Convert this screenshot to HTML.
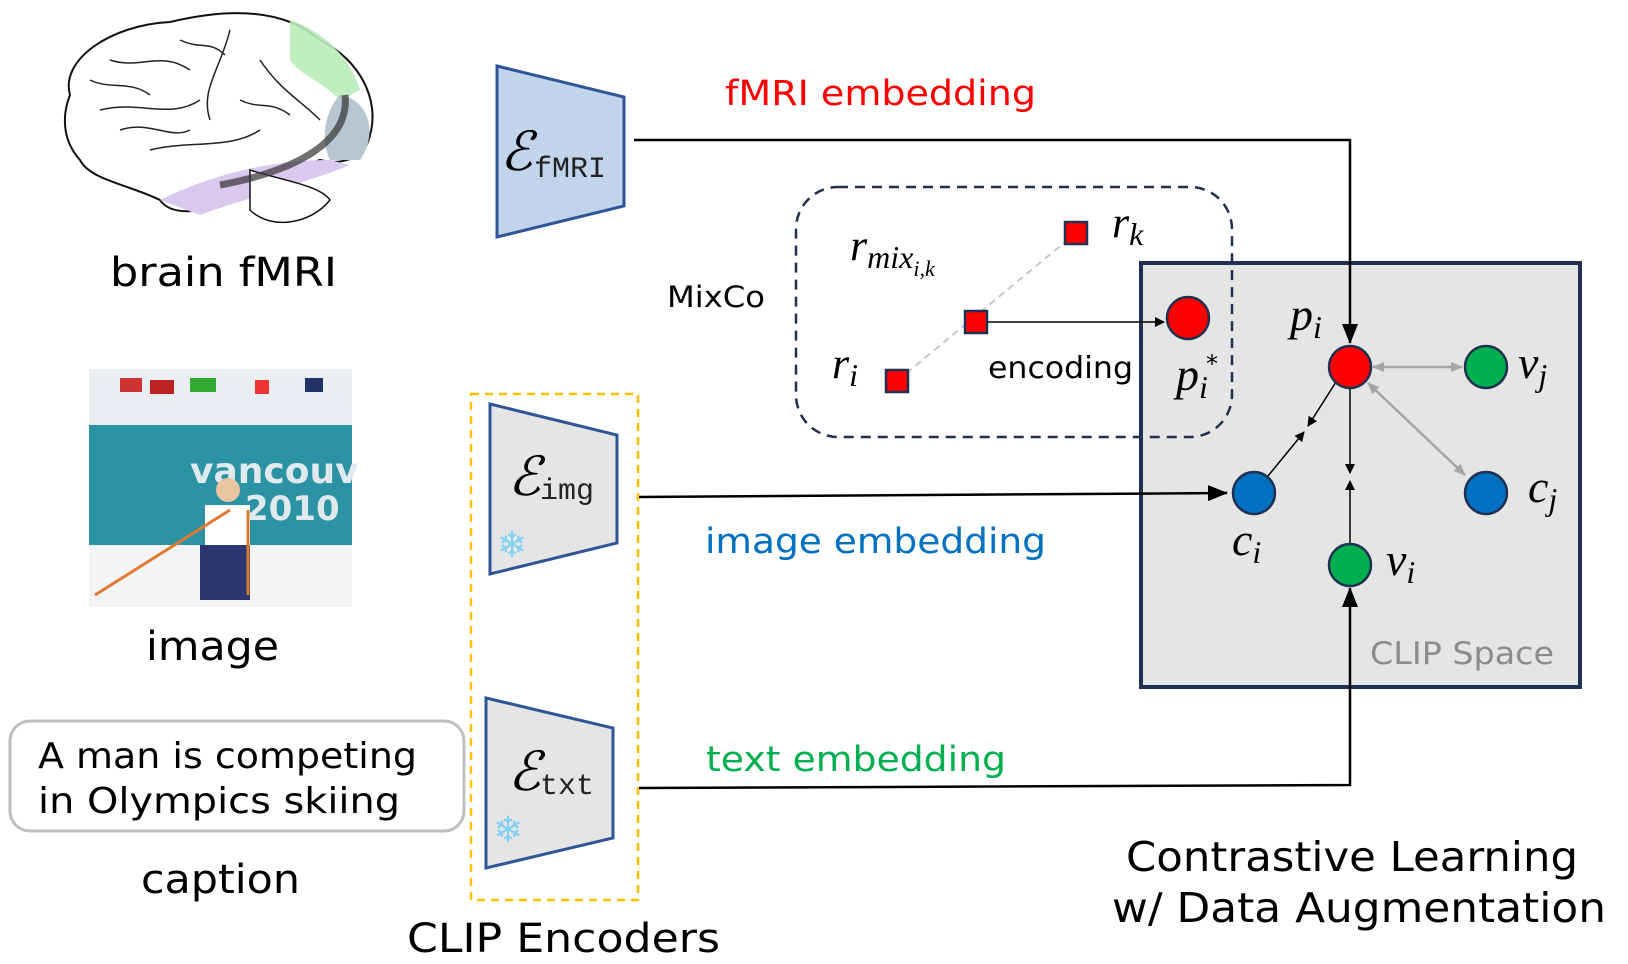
<!DOCTYPE html>
<html><head><meta charset="utf-8"><style>
html,body{margin:0;padding:0;background:#fff;width:1628px;height:964px;overflow:hidden}
svg text{font-family:"DejaVu Sans","Liberation Sans",sans-serif}
svg text.m{font-family:"Liberation Serif","DejaVu Serif",serif;font-style:italic}
svg text.mono{font-family:"Liberation Mono","DejaVu Sans Mono",monospace}
</style></head><body>
<svg width="1628" height="964" viewBox="0 0 1628 964" xmlns="http://www.w3.org/2000/svg">
<defs>
<marker id="ab" markerWidth="10" markerHeight="10" refX="9" refY="5" orient="auto" markerUnits="userSpaceOnUse"><path d="M0,0 L10,5 L0,10 z" fill="#000"/></marker>
<marker id="abL" markerWidth="20" markerHeight="16" refX="19" refY="8" orient="auto" markerUnits="userSpaceOnUse"><path d="M0,0 L20,8 L0,16 z" fill="#000"/></marker>
<marker id="ag" markerWidth="12" markerHeight="12" refX="11" refY="6" orient="auto-start-reverse" markerUnits="userSpaceOnUse"><path d="M0,1 L12,6 L0,11 z" fill="#a6a6a6"/></marker>
</defs>

<!-- brain -->
<g>
<path d="M70,95 C60,60 110,25 170,22 C220,10 280,5 320,40 C360,60 380,100 370,135 C365,160 340,165 320,160 C290,170 260,185 230,200 C200,215 170,215 160,200 C130,185 90,180 80,160 C62,140 62,115 70,95 Z" fill="#fff" stroke="#111" stroke-width="2"/>
<path d="M290,20 C320,30 350,55 360,90 L340,100 C320,80 300,75 290,60 Z" fill="#b9ecb9" opacity=".9"/>
<path d="M340,95 C370,100 378,135 360,160 L330,160 C320,140 325,110 340,95Z" fill="#b8c6cf"/>
<path d="M160,200 C200,180 260,160 330,160 L350,165 C300,185 240,200 200,215 Z" fill="#d9c9ef"/>
<path d="M250,170 C280,180 320,185 330,200 C310,225 270,230 250,210 Z" fill="#fff" stroke="#111" stroke-width="1.5"/>
<path d="M110,60 C140,70 160,50 190,70 M100,110 C140,100 170,120 200,100 M230,30 C220,70 200,90 210,120 M150,150 C190,140 230,150 260,130 M260,60 C280,90 300,100 320,120 M120,130 C150,120 170,140 190,130 M90,80 C110,90 130,80 150,95 M180,40 C200,50 210,40 225,55 M240,100 C260,110 270,100 290,115" fill="none" stroke="#222" stroke-width="1.5"/>
<path d="M345,95 C350,140 300,170 220,185" fill="none" stroke="#333" stroke-width="7" opacity=".7"/>
</g>
<text x="110" y="286" font-size="40" textLength="227" lengthAdjust="spacingAndGlyphs">brain fMRI</text>

<!-- photo -->
<g>
<rect x="89" y="369" width="263" height="238" fill="#e9eef2"/>
<rect x="89" y="425" width="263" height="135" fill="#2b93a3"/>
<rect x="89" y="545" width="263" height="62" fill="#f2f4f6"/>
<rect x="120" y="378" width="22" height="14" fill="#c33"/><rect x="150" y="380" width="24" height="14" fill="#b22"/>
<rect x="190" y="378" width="26" height="14" fill="#3a3"/><rect x="255" y="380" width="14" height="14" fill="#e33"/><rect x="305" y="378" width="18" height="14" fill="#236"/>
<text x="190" y="483" font-size="36" fill="#dfe9ee" font-weight="bold">vancouv</text>
<text x="245" y="520" font-size="34" fill="#dfe9ee" font-weight="bold">2010</text>
<rect x="205" y="505" width="45" height="40" fill="#fff"/>
<rect x="200" y="545" width="50" height="55" fill="#2c3670"/>
<circle cx="228" cy="490" r="12" fill="#e8c4a0"/>
<line x1="95" y1="595" x2="230" y2="510" stroke="#e07a30" stroke-width="3"/>
<line x1="248" y1="510" x2="248" y2="595" stroke="#e07a30" stroke-width="3"/>
</g>
<text x="146" y="660" font-size="40" textLength="133" lengthAdjust="spacingAndGlyphs">image</text>

<!-- caption -->
<rect x="10" y="721" width="454" height="110" rx="20" fill="#fff" stroke="#bfbfbf" stroke-width="3"/>
<text x="38" y="768" font-size="36" textLength="379" lengthAdjust="spacingAndGlyphs">A man is competing</text>
<text x="38" y="813" font-size="36" textLength="362" lengthAdjust="spacingAndGlyphs">in Olympics skiing</text>
<text x="141" y="893" font-size="40" textLength="159" lengthAdjust="spacingAndGlyphs">caption</text>

<!-- encoders -->
<path d="M497,66 L624,97 L624,206 L497,237 Z" fill="#c2d3ec" stroke="#2f5597" stroke-width="3"/>
<text x="500" y="170" class="m" font-size="54">ℰ</text>
<text x="534" y="177" class="mono" font-size="30" fill="#222">fMRI</text>

<rect x="471" y="394" width="167" height="506" fill="none" stroke="#ffc000" stroke-width="2.5" stroke-dasharray="8,6"/>
<path d="M490,404 L617,435 L617,543 L490,574 Z" fill="#e5e5e5" stroke="#2f5597" stroke-width="3"/>
<text x="508" y="495" class="m" font-size="54">ℰ</text>
<text x="540" y="499" class="mono" font-size="30" fill="#222">img</text>
<text x="497" y="557" font-size="36" fill="#7fd0f5">❄</text>
<path d="M486,698 L613,728 L613,838 L486,868 Z" fill="#e5e5e5" stroke="#2f5597" stroke-width="3"/>
<text x="508" y="790" class="m" font-size="54">ℰ</text>
<text x="540" y="794" class="mono" font-size="30" fill="#222">txt</text>
<text x="493" y="842" font-size="36" fill="#7fd0f5">❄</text>
<text x="407" y="952" font-size="40" textLength="313" lengthAdjust="spacingAndGlyphs">CLIP Encoders</text>

<!-- CLIP box -->
<rect x="1141" y="263" width="439" height="424" fill="#e5e5e5" stroke="#1f3050" stroke-width="4"/>
<text x="1370" y="664" font-size="31" fill="#8c8c8c" textLength="184" lengthAdjust="spacingAndGlyphs">CLIP Space</text>

<!-- MixCo -->
<rect x="796" y="187" width="436" height="250" rx="42" fill="none" stroke="#1f3050" stroke-width="2.5" stroke-dasharray="10,7"/>
<text x="667" y="307" font-size="29" textLength="98" lengthAdjust="spacingAndGlyphs">MixCo</text>
<line x1="897" y1="381" x2="1076" y2="233" stroke="#c8c8c8" stroke-width="2" stroke-dasharray="7,5"/>
<rect x="1065" y="222" width="22" height="22" fill="#f00" stroke="#1f3050" stroke-width="2.5"/>
<rect x="965" y="311" width="22" height="22" fill="#f00" stroke="#1f3050" stroke-width="2.5"/>
<rect x="886" y="370" width="22" height="22" fill="#f00" stroke="#1f3050" stroke-width="2.5"/>
<line x1="987" y1="322" x2="1164" y2="322" stroke="#000" stroke-width="1.5" marker-end="url(#ab)"/>
<text x="988" y="378" font-size="30" textLength="145" lengthAdjust="spacingAndGlyphs">encoding</text>
<text x="1112" y="237" class="m" font-size="44">r<tspan font-size="32" dy="8">k</tspan></text>
<text x="850" y="260" class="m" font-size="44">r<tspan font-size="32" dy="8">mix</tspan><tspan font-size="22" dy="8">i,k</tspan></text>
<text x="832" y="378" class="m" font-size="44">r<tspan font-size="32" dy="8">i</tspan></text>
<circle cx="1188" cy="318" r="21" fill="#f00" stroke="#1f3050" stroke-width="2.5"/>
<text x="1176" y="390" class="m" font-size="46">p<tspan font-size="32" dy="8">i</tspan></text>
<text x="1206" y="372" font-size="24">*</text>

<!-- main lines -->
<polyline points="634,140 1350,140 1350,343" fill="none" stroke="#000" stroke-width="2.5" marker-end="url(#abL)"/>
<text x="725" y="105" font-size="35" fill="#f00" textLength="311" lengthAdjust="spacingAndGlyphs">fMRI embedding</text>
<line x1="639" y1="497" x2="1227" y2="493" stroke="#000" stroke-width="2.5" marker-end="url(#abL)"/>
<text x="705" y="553" font-size="35" fill="#0070c0" textLength="341" lengthAdjust="spacingAndGlyphs">image embedding</text>
<polyline points="639,788 1350,785 1350,588" fill="none" stroke="#000" stroke-width="2.5" marker-end="url(#abL)"/>
<text x="706" y="771" font-size="35" fill="#00b050" textLength="300" lengthAdjust="spacingAndGlyphs">text embedding</text>

<!-- inner arrows -->
<line x1="1336" y1="382" x2="1308" y2="426" stroke="#000" stroke-width="1.5" marker-end="url(#ab)"/>
<line x1="1268" y1="476" x2="1304" y2="432" stroke="#000" stroke-width="1.5" marker-end="url(#ab)"/>
<line x1="1350" y1="389" x2="1350" y2="473" stroke="#000" stroke-width="1.5" marker-end="url(#ab)"/>
<line x1="1350" y1="543" x2="1350" y2="481" stroke="#000" stroke-width="1.5" marker-end="url(#ab)"/>
<line x1="1373" y1="367" x2="1462" y2="367" stroke="#a6a6a6" stroke-width="2.5" marker-start="url(#ag)" marker-end="url(#ag)"/>
<line x1="1368" y1="383" x2="1465" y2="475" stroke="#a6a6a6" stroke-width="2.5" marker-start="url(#ag)" marker-end="url(#ag)"/>

<circle cx="1350" cy="367" r="21" fill="#f00" stroke="#1f3050" stroke-width="2.5"/>
<circle cx="1486" cy="367" r="21" fill="#00b050" stroke="#1f3050" stroke-width="2.5"/>
<circle cx="1254" cy="493" r="21" fill="#0070c0" stroke="#1f3050" stroke-width="2.5"/>
<circle cx="1486" cy="493" r="21" fill="#0070c0" stroke="#1f3050" stroke-width="2.5"/>
<circle cx="1350" cy="565" r="21" fill="#00b050" stroke="#1f3050" stroke-width="2.5"/>

<text x="1290" y="330" class="m" font-size="46">p<tspan font-size="32" dy="8">i</tspan></text>
<text x="1518" y="378" class="m" font-size="46">v<tspan font-size="32" dy="8">j</tspan></text>
<text x="1528" y="502" class="m" font-size="46">c<tspan font-size="32" dy="8">j</tspan></text>
<text x="1232" y="555" class="m" font-size="46">c<tspan font-size="32" dy="8">i</tspan></text>
<text x="1386" y="575" class="m" font-size="46">v<tspan font-size="32" dy="8">i</tspan></text>

<text x="1126" y="871" font-size="41" textLength="452" lengthAdjust="spacingAndGlyphs">Contrastive Learning</text>
<text x="1112" y="922" font-size="41" textLength="494" lengthAdjust="spacingAndGlyphs">w/ Data Augmentation</text>
</svg>
</body></html>
